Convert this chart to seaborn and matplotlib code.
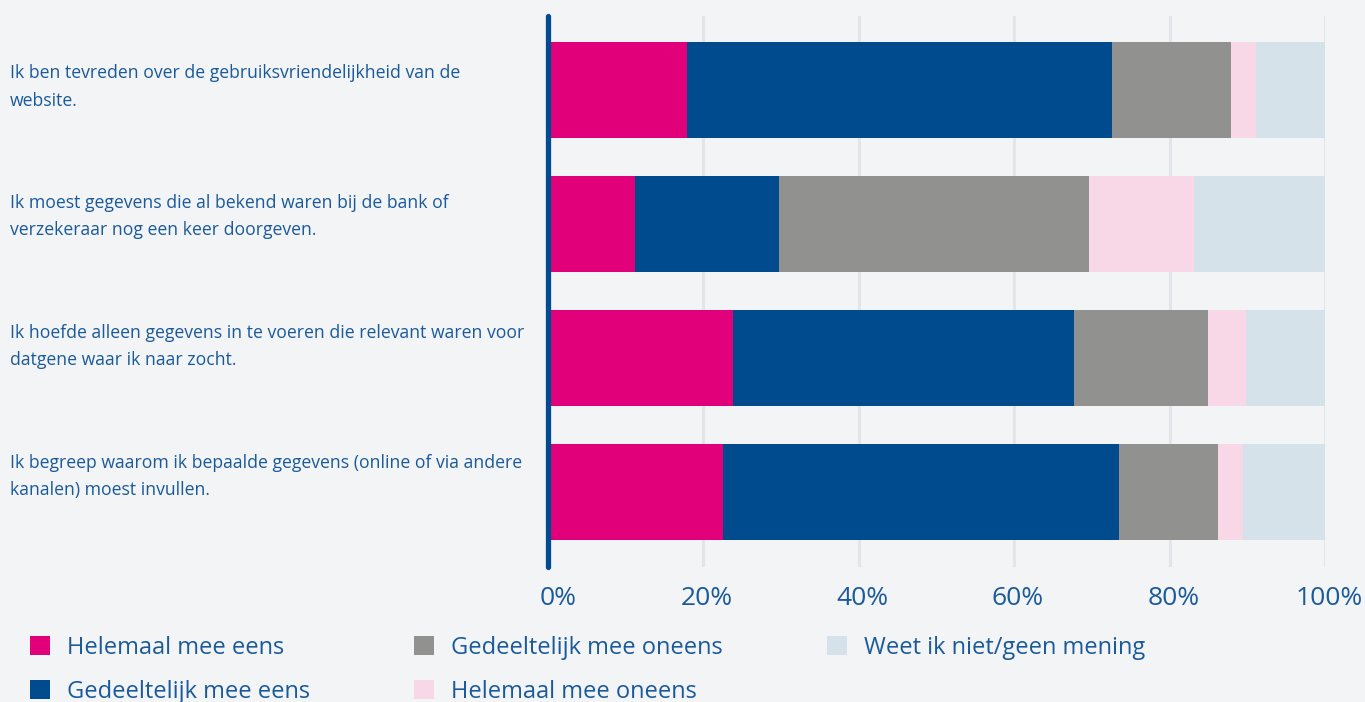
import numpy as np
import pandas as pd
import matplotlib
matplotlib.use("Agg")
import matplotlib.pyplot as plt
import matplotlib.transforms as mtransforms
from matplotlib.patches import Patch
import seaborn as sns

# Survey statements (wrapped as displayed)
questions = [
    "Ik ben tevreden over de gebruiksvriendelijkheid van de\nwebsite.",
    "Ik moest gegevens die al bekend waren bij de bank of\nverzekeraar nog een keer doorgeven.",
    "Ik hoefde alleen gegevens in te voeren die relevant waren voor\ndatgene waar ik naar zocht.",
    "Ik begreep waarom ik bepaalde gegevens (online of via andere\nkanalen) moest invullen.",
]

answers = [
    "Helemaal mee eens",
    "Gedeeltelijk mee eens",
    "Gedeeltelijk mee oneens",
    "Helemaal mee oneens",
    "Weet ik niet/geen mening",
]

# Share of respondents (%) per answer, one list per statement row
helemaal_eens = [18.0, 11.2, 23.9, 22.6]
gedeeltelijk_eens = [54.6, 18.6, 43.8, 50.9]
gedeeltelijk_oneens = [15.3, 39.8, 17.3, 12.7]
helemaal_oneens = [3.2, 13.6, 4.8, 3.3]
weet_niet = [8.9, 16.8, 10.2, 10.5]

tick_values = [0, 20, 40, 60, 80, 100]
tick_labels = ["0%", "20%", "40%", "60%", "80%", "100%"]

colors = ["#e2007a", "#004b8d", "#91918f", "#f8d7e6", "#d5e2ea"]
bg = "#f3f4f6"
text_color = "#1a5a9b"

sns.set_style("white", {"axes.facecolor": bg, "figure.facecolor": bg})
plt.rcParams["font.family"] = ["Open Sans", "DejaVu Sans"]

shares = np.array([helemaal_eens, gedeeltelijk_eens, gedeeltelijk_oneens,
                   helemaal_oneens, weet_niet])
cumulative = np.cumsum(shares, axis=0)

W, H = 1365, 702
fig = plt.figure(figsize=(W / 100, H / 100), dpi=100)
fig.patch.set_facecolor(bg)
ax = fig.add_axes([547.5 / W, (H - 567) / H, (1325 - 547.5) / W, (567 - 16) / H])
ax.set_facecolor(bg)

# Stacked bars: draw cumulative totals from the outermost segment inward
for i in range(len(answers) - 1, -1, -1):
    df = pd.DataFrame({"statement": questions, "value": cumulative[i]})
    sns.barplot(data=df, x="value", y="statement", orient="h", color=colors[i],
                saturation=1, width=0.716, ax=ax, linewidth=0, zorder=2)

ax.set_xlim(0, 100)
ax.set_ylim(3.56, -0.552)
ax.set_xticks(tick_values)
ax.set_xticklabels(tick_labels, fontsize=19, color=text_color)
ax.tick_params(axis="x", length=0, pad=14)
ax.set_yticks([])
ax.set_xlabel("")
ax.set_ylabel("")
for s in ax.spines.values():
    s.set_visible(False)
ax.grid(axis="x", color="#e3e5ea", linewidth=2.2, zorder=0)
ax.set_axisbelow(True)
ax.axvline(0, color="#004b8d", linewidth=3.8, zorder=3, clip_on=False)

# Nudge the tick labels slightly right; the 0% label clears the axis line
for j, lab in enumerate(ax.get_xticklabels()):
    dx = 11 if j == 0 else 4
    lab.set_transform(lab.get_transform() +
                      mtransforms.ScaledTranslation(dx / 100, 0, fig.dpi_scale_trans))

# Statement labels in the left margin
for k, q in enumerate(questions):
    y_px = 87 + k * 129.7
    fig.text(10 / W, 1 - y_px / H, q, ha="left", va="center",
             fontsize=12.7, color=text_color, linespacing=1.65)

handles = [Patch(facecolor=c, edgecolor="none") for c in colors]
fig.legend(handles, answers, loc="upper left", bbox_to_anchor=(30 / W, 1 - 636 / H),
           ncol=3, frameon=False, fontsize=17, labelcolor=text_color,
           handlelength=0.85, handleheight=0.85, handletextpad=0.72,
           labelspacing=0.85, columnspacing=4.4, borderpad=0, borderaxespad=0)

fig.savefig("out.png", dpi=100, facecolor=bg)
